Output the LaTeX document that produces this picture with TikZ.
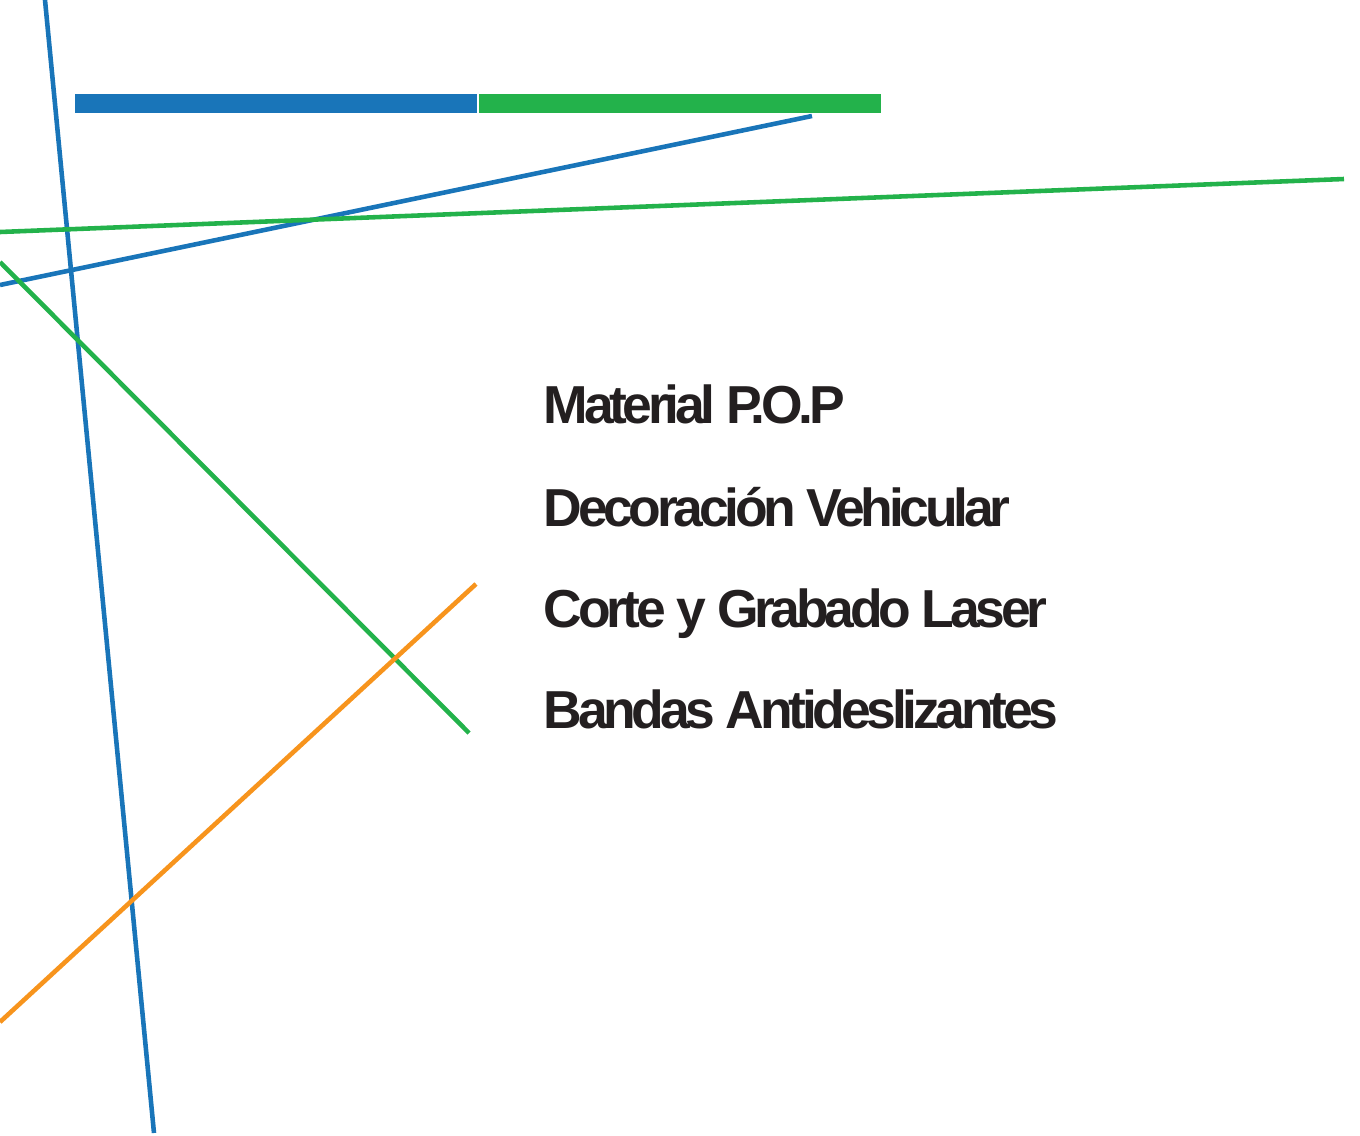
\documentclass[tikz,border=0pt]{standalone}
\usepackage{fontspec}
\setmainfont{Liberation Sans}[LetterSpace=-8]
\usepackage{tikz}
\definecolor{azul}{RGB}{25,117,185}
\definecolor{verde}{RGB}{35,178,75}
\definecolor{naranja}{RGB}{247,148,29}
\definecolor{tinta}{RGB}{35,31,32}
\tikzset{linea/.style={line width=1.3pt},
  servicio/.style={anchor=base west, inner sep=0pt, text=tinta, font=\fontsize{15.2}{18}\selectfont\bfseries}}

\begin{document}
\begin{tikzpicture}[x=0.01cm, y=-0.01cm]
\useasboundingbox (0,0) rectangle (1360,1136);

% barras
\fill[azul] (75,94) rectangle (477,113);
\fill[verde] (479,94) rectangle (881,113);

% lineas
\draw[linea, azul] (45,0) -- (154,1133);
\draw[linea, azul] (0,285) -- (812,116);
\draw[linea, verde] (0,232) -- (1344,179);
\draw[linea, verde] (0,262) -- (469,733);
\draw[linea, naranja] (0,1022) -- (476,584);

\node[servicio] (pop) at (543,423) {Material P.O.P};
\node[servicio] (deco) at (543,526) {Decoración Vehicular};
\node[servicio] (laser) at (543,627) {Corte y Grabado Laser};
\node[servicio] (bandas) at (543,728) {Bandas Antideslizantes};

\end{tikzpicture}
\end{document}
